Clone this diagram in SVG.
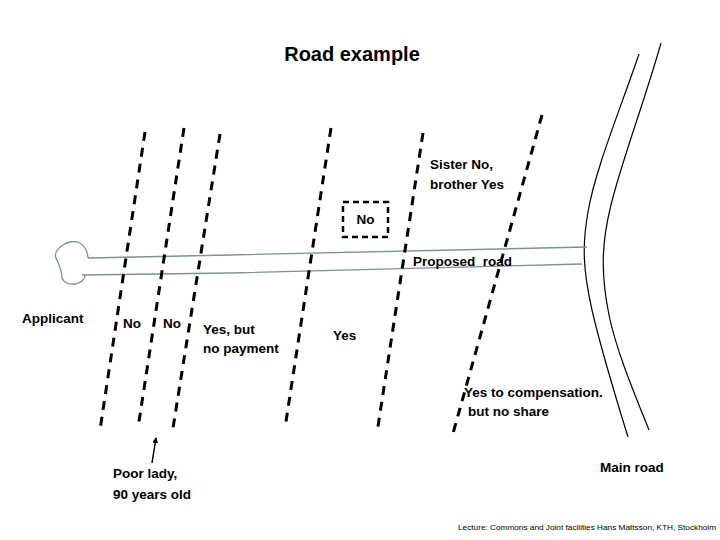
<svg xmlns="http://www.w3.org/2000/svg" width="720" height="540" viewBox="0 0 720 540">
<style>
.t{font-family:"Liberation Sans",Arial,sans-serif;font-weight:bold;font-size:13.5px;fill:#000}
.bd{fill:none;stroke:#000;stroke-width:3;stroke-dasharray:9 7}
.rd{fill:none;stroke:#7890a2;stroke-width:1.3}
.mr{fill:none;stroke:#000;stroke-width:1.2}
</style>
<defs>
<marker id="ah" markerWidth="6" markerHeight="6" refX="5" refY="3" orient="auto" markerUnits="userSpaceOnUse">
<path d="M0,0 L6,3 L0,6 z" fill="#000"/>
</marker>
</defs>
<rect width="720" height="540" fill="#fff"/>
<text x="352" y="61" text-anchor="middle" style="font-family:'Liberation Sans',Arial,sans-serif;font-weight:bold;font-size:20px">Road example</text>

<g id="main-road">
<path class="mr" d="M639,54 C620,110 595,170 588,212 C582,245 583,270 592,310 C600,345 615,395 628,437"/>
<path class="mr" d="M661,43 C645,100 622,160 611,205 C601,245 601,275 609,315 C616,350 635,395 649,430"/>
</g>

<g id="proposed-road">
<path class="rd" d="M88,258 L230,255 L587,247"/>
<path class="rd" d="M82,275 L230,273 L582,264"/>
<path class="rd" d="M88,258 C88,252 84,245 80,243 C76,241 68,241 63,245 C57,249 54,253 56,258 C59,264 62,270 62,278 C64,283 70,285 76,284 C82,282 85,279 85,275"/>
</g>

<g id="boundaries">
<line class="bd" x1="145" y1="132" x2="100" y2="430"/>
<line class="bd" x1="184" y1="128" x2="138" y2="428"/>
<line class="bd" x1="220" y1="134" x2="173" y2="428"/>
<line class="bd" x1="331" y1="128" x2="285" y2="428"/>
<line class="bd" x1="423" y1="133" x2="377" y2="433"/>
<line class="bd" x1="542" y1="115" x2="452" y2="437"/>
</g>

<g id="no-box">
<rect x="343" y="202" width="45" height="35" fill="none" stroke="#000" stroke-width="2.5" stroke-dasharray="6 4"/>
<text class="t" x="365.5" y="224" text-anchor="middle">No</text>
</g>

<g id="connectors">
<line x1="152" y1="463" x2="156" y2="438" stroke="#000" stroke-width="1.5" marker-end="url(#ah)"/>
</g>

<g id="labels">
<text class="t" x="430" y="169">Sister No,</text>
<text class="t" x="430" y="189">brother Yes</text>
<text class="t" x="413" y="266" xml:space="preserve">Proposed  road</text>
<text class="t" x="22" y="323">Applicant</text>
<text class="t" x="123" y="328">No</text>
<text class="t" x="163" y="328">No</text>
<text class="t" x="203" y="334">Yes, but</text>
<text class="t" x="203" y="353">no payment</text>
<text class="t" x="333" y="340">Yes</text>
<text class="t" x="464" y="397">Yes to compensation.</text>
<text class="t" x="468" y="416">but no share</text>
<text class="t" x="600" y="472">Main road</text>
<text class="t" x="113" y="478">Poor lady,</text>
<text class="t" x="113" y="499">90 years old</text>
<text x="458" y="530" textLength="258" lengthAdjust="spacingAndGlyphs" style="font-family:'Liberation Sans',Arial,sans-serif;font-size:8px">Lecture: Commons and Joint facilities Hans Mattsson, KTH, Stockholm</text>
</g>
</svg>
